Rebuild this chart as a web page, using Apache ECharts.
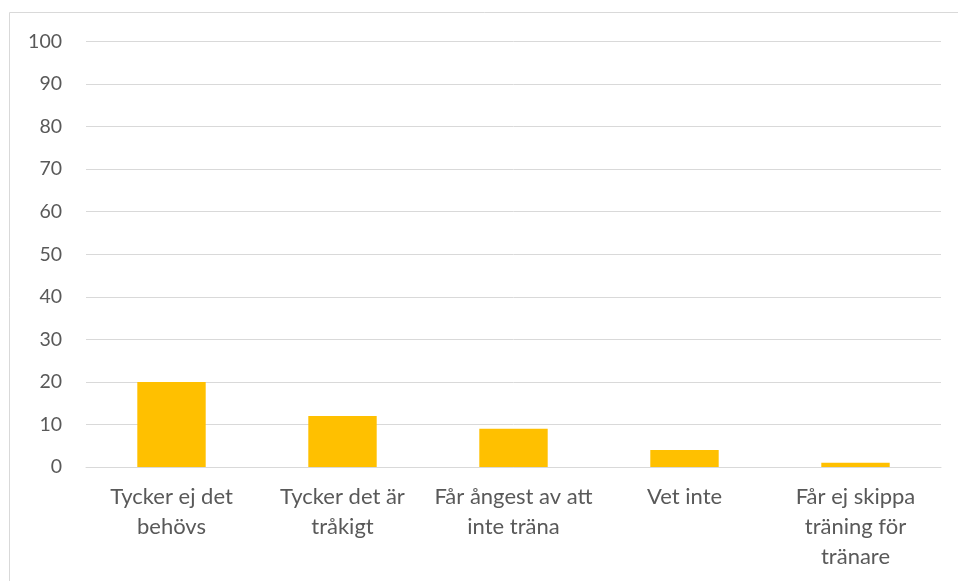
<!DOCTYPE html>
<html>
<head>
<meta charset="utf-8">
<script src="https://cdn.jsdelivr.net/npm/echarts@6/dist/echarts.min.js"></script>
<style>
  html, body { margin: 0; padding: 0; background: #fff; }
  #chart { width: 958px; height: 581px; }
</style>
</head>
<body>
<div id="chart"></div>
<script>
// Reasons for skipping training (count of answers)
const categories = [
  'Tycker ej det\nbehövs',
  'Tycker det är\ntråkigt',
  'Får ångest av att\ninte träna',
  'Vet inte',
  'Får ej skippa\nträning för\ntränare'
];
const values = [20, 12, 9, 4, 1];
const yMin = 0, yMax = 100, yStep = 10;

const chart = echarts.init(document.getElementById('chart'), null, { renderer: 'canvas' });
const textColor = '#595959';
const font = 'Lato, "Liberation Sans", sans-serif';

chart.setOption({
  animation: false,
  graphic: [{
    type: 'rect',
    shape: { x: 9.5, y: 12.5, width: 1000, height: 700 },
    style: { fill: 'none', stroke: '#d9d9d9', lineWidth: 1 },
    silent: true
  }],
  grid: { left: 86, right: 17, top: 41.5, bottom: 114, containLabel: false },
  xAxis: {
    type: 'category',
    data: categories,
    axisLine: { show: true, lineStyle: { color: '#d9d9d9', width: 1 } },
    axisTick: { show: false },
    axisLabel: {
      color: textColor, fontFamily: font, fontSize: 22,
      lineHeight: 30, margin: 15, interval: 0
    }
  },
  yAxis: {
    type: 'value',
    min: yMin, max: yMax, interval: yStep,
    axisLine: { show: false },
    axisTick: { show: false },
    splitLine: { lineStyle: { color: '#d9d9d9', width: 1 } },
    axisLabel: { color: textColor, fontFamily: font, fontSize: 19.5, margin: 24 }
  },
  series: [{
    type: 'bar',
    data: values,
    barWidth: '40%',
    itemStyle: { color: '#FFC000' }
  }]
});
</script>
</body>
</html>
